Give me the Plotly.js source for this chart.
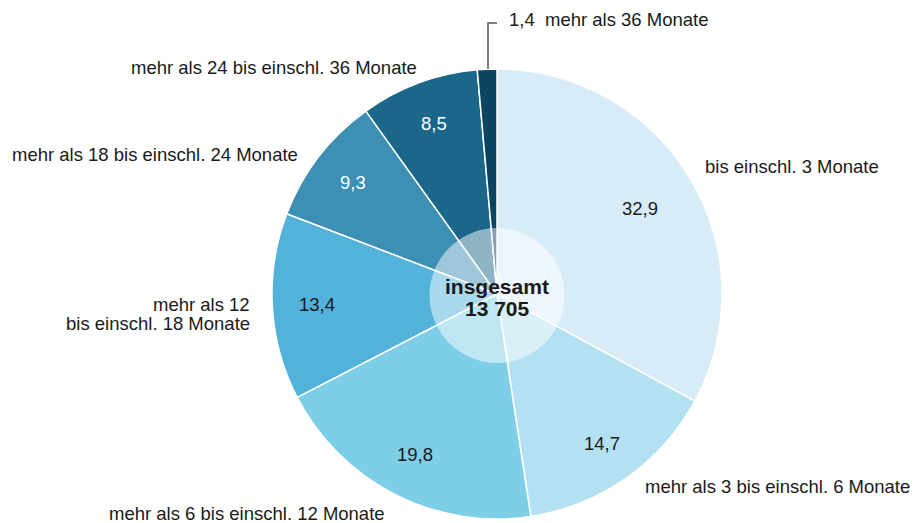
<!DOCTYPE html>
<html>
<head>
<meta charset="utf-8">
<script src="https://cdn.plot.ly/plotly-3.0.1.min.js"></script>
<style>html,body{margin:0;padding:0;background:#fff;}#chart{width:915px;height:523px;}</style>
</head>
<body>
<div id="chart"></div>
<script>
// ---- data ----
const categories = [
  "bis einschl. 3 Monate",
  "mehr als 3 bis einschl. 6 Monate",
  "mehr als 6 bis einschl. 12 Monate",
  "mehr als 12<br>bis einschl. 18 Monate",
  "mehr als 18 bis einschl. 24 Monate",
  "mehr als 24 bis einschl. 36 Monate",
  "mehr als 36 Monate"
];
const shares = [32.9, 14.7, 19.8, 13.4, 9.3, 8.5, 1.4];
const totalLabel = "insgesamt";
const totalValue = "13 705";

// ---- styling / layout ----
const W = 915, H = 523;
const CX = 497, CY = 294, R = 225;
const colors = ["#d8ecf8", "#b3e1f1", "#7fcee7", "#53b2da", "#3d90b4", "#1a6789", "#0b4560"];
const valueColors = ["#1a1a1a", "#1a1a1a", "#1a1a1a", "#1a1a1a", "#ffffff", "#ffffff", "#1a1a1a"];
const valueRadius = [0.74, 0.81, 0.80, 0.80, 0.81, 0.81, null];
const outside = [
  {x: 703, y: 166, xa: "left"},
  {x: 643, y: 487, xa: "left"},
  {x: 107, y: 513, xa: "left"},
  {x: 252, y: 304, xa: "right"},
  {x: 10,  y: 154, xa: "left"},
  {x: 129, y: 68,  xa: "left"},
  {x: 507, y: 20,  xa: "left"}
];
const LINE_GAP = 19;
const FONT = "'Liberation Sans', Arial, Helvetica, sans-serif";
const FS = 18.5;
const px = x => x / W;
const py = y => 1 - y / H;
const fmt = v => v.toFixed(1).replace('.', ',');

const total = shares.reduce((a, b) => a + b, 0);
const annotations = [];
let cum = 0;
shares.forEach((v, i) => {
  const mid = (cum + v / 2) / total * 2 * Math.PI;
  cum += v;
  if (valueRadius[i] !== null) {
    const rr = valueRadius[i] * R;
    annotations.push({
      xref: "paper", yref: "paper",
      x: px(CX + rr * Math.sin(mid)), y: py(CY - rr * Math.cos(mid)),
      text: fmt(v), showarrow: false, xanchor: "center", yanchor: "middle",
      font: {family: FONT, size: FS, color: valueColors[i]}
    });
  }
  const o = outside[i];
  const txt = valueRadius[i] === null ? fmt(v) + "  " + categories[i] : categories[i];
  txt.split("<br>").forEach((line, k) => {
    annotations.push({
      xref: "paper", yref: "paper", x: px(o.x), y: py(o.y + k * LINE_GAP),
      text: line, showarrow: false, xanchor: o.xa, yanchor: "middle", align: o.xa,
      font: {family: FONT, size: FS, color: "#1a1a1a"}
    });
  });
});
annotations.push({
  xref: "paper", yref: "paper", x: px(CX), y: py(286), text: "<b>" + totalLabel + "</b>",
  showarrow: false, xanchor: "center", yanchor: "middle",
  font: {family: FONT, size: 21, color: "#1a1a1a"}
});
annotations.push({
  xref: "paper", yref: "paper", x: px(CX), y: py(308), text: "<b>" + totalValue + "</b>",
  showarrow: false, xanchor: "center", yanchor: "middle",
  font: {family: FONT, size: 21, color: "#1a1a1a"}
});

const CR = 67.5;
const shapes = [
  {type: "circle", xref: "paper", yref: "paper",
   x0: px(CX - CR), x1: px(CX + CR), y0: py(CY + 1.5 + CR), y1: py(CY + 1.5 - CR),
   fillcolor: "rgba(255,255,255,0.5)", line: {width: 0}},
  {type: "path", xref: "paper", yref: "paper",
   path: `M ${px(488)} ${py(69)} L ${px(488)} ${py(23)} L ${px(497)} ${py(23)}`,
   line: {color: "#555555", width: 1.5}}
];

const trace = {
  type: "pie",
  values: shares,
  labels: categories,
  sort: false,
  direction: "clockwise",
  rotation: 0,
  textinfo: "none",
  hoverinfo: "label+value",
  marker: {colors: colors, line: {color: "#ffffff", width: 1.5}},
  domain: {x: [px(CX - R), px(CX + R)], y: [py(CY + R), py(CY - R)]},
  showlegend: false
};

Plotly.newPlot("chart", [trace], {
  width: W, height: H,
  margin: {l: 0, r: 0, t: 0, b: 0},
  paper_bgcolor: "#ffffff",
  showlegend: false,
  annotations: annotations,
  shapes: shapes
}, {displayModeBar: false, staticPlot: true});
</script>
</body>
</html>
